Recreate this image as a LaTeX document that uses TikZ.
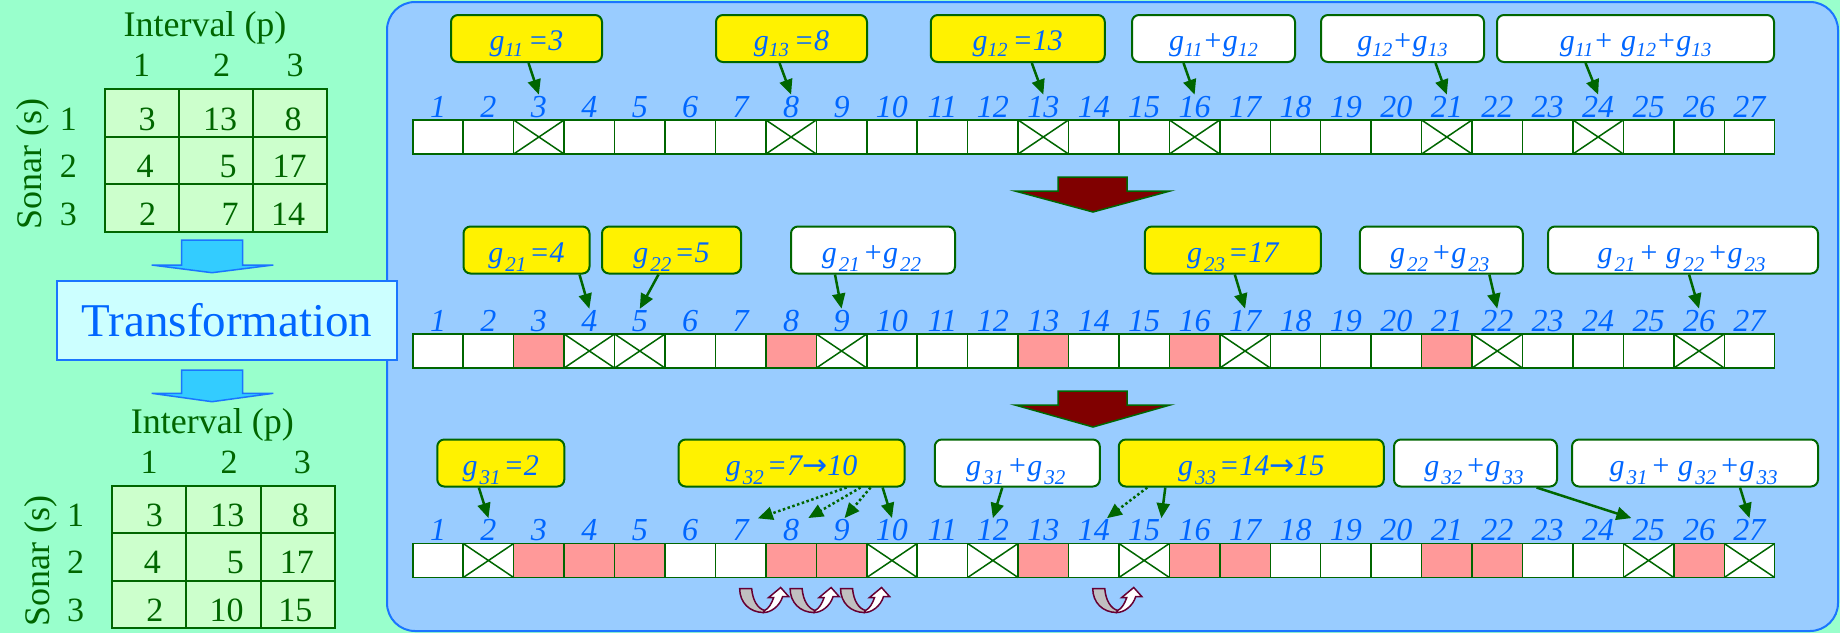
\documentclass[tikz,border=0pt]{standalone}
\usepackage{fontspec}
\setmainfont{Liberation Serif}
\newfontfamily\arrowfont{DejaVu Sans}
\usepackage{tikz}
\usetikzlibrary{arrows.meta}
\usetikzlibrary{positioning}

\definecolor{mint}{HTML}{99FFCC}
\definecolor{skyback}{HTML}{99CCFF}
\definecolor{panelblue}{HTML}{1A75FF}
\definecolor{dkgreen}{HTML}{006600}
\definecolor{cellgreen}{HTML}{CCFFCC}
\definecolor{numblue}{HTML}{0066FF}
\definecolor{hitpink}{HTML}{FF9999}
\definecolor{trbox}{HTML}{CCFFFF}
\definecolor{cyanarrow}{HTML}{33CCFF}
\definecolor{darkred}{HTML}{800000}
\definecolor{wine}{HTML}{660033}
\definecolor{ribbon}{HTML}{C0C0C0}

% subscripts of g: tight (first pass) and spaced (later passes)
\newcommand{\gsub}[1]{\raisebox{-6pt}{\fontsize{20}{20}\selectfont #1}}
\newcommand{\gsubsp}[1]{\kern2pt\raisebox{-9pt}{\fontsize{21}{21}\selectfont #1}\kern3pt}
\newcommand{\moved}{{\arrowfont\upshape →}}

\tikzset{
  cell/.style={draw=dkgreen, line width=1.5pt, fill=white, minimum width=50.44pt,
    minimum height=34pt, inner sep=0pt, outer sep=0pt},
  num/.style={text=numblue, font=\fontsize{32}{32}\selectfont\itshape, inner sep=1pt, anchor=base},
  lbl/.style={draw=dkgreen, line width=2pt, rounded corners=7pt, text=numblue,
    font=\fontsize{30}{30}\selectfont\itshape, minimum height=47pt, inner sep=0pt,
    text height=28pt, text depth=4pt},
  yelbox/.style={lbl, fill=yellow},
  whitebox/.style={lbl, fill=white},
}

\begin{document}
\begin{tikzpicture}[x=1pt,y=-1pt]
  \useasboundingbox (0,0) rectangle (1840,633);
  \fill[mint] (0,0) rectangle (1840,633);
  \filldraw[fill=skyback, draw=panelblue, line width=2pt, rounded corners=28pt] (387,2) rectangle (1838,631);

  % the two g(s,p) tables, before and after
  \foreach \t/\dx/\dy/\bx/\vb/\vc in {1/0/0/230/7/14, 2/7.3/396.7/219.4/10/15} {
    \begin{scope}[shift={(\dx,\dy)}, every node/.style={text=dkgreen, anchor=base, font=\fontsize{34}{34}\selectfont}]
      \filldraw[fill=cellgreen, draw=dkgreen, line width=2pt] (105,89) rectangle (327.3,231.7);
      \draw[dkgreen, line width=2pt] (179.1,89) -- (179.1,231.7) (253.2,89) -- (253.2,231.7)
        (105,136.6) -- (327.3,136.6) (105,184.2) -- (327.3,184.2);
      \node (int\t) at (205,36.7) {\fontsize{36}{36}\selectfont Interval (p)};
      \node[rotate=90] (son\t) at (41.7,164) {\fontsize{36}{36}\selectfont Sonar (s)};
      \node (p\t-1) at (141.7,76.7) {1};
      \node (p\t-2) at (221.7,76.7) {2};
      \node (p\t-3) at (295,76.7) {3};
      \node (s\t-1) at (68.3,130) {1};
      \node (s\t-2) at (68.3,177) {2};
      \node (s\t-3) at (68.3,225) {3};
      \node (v\t-11) at (147,130) {3};
      \node (v\t-12) at (220,130) {13};
      \node (v\t-13) at (293,130) {8};
      \node (v\t-21) at (145,177) {4};
      \node (v\t-22) at (228,177) {5};
      \node (v\t-23) at (289.5,177) {17};
      \node (v\t-31) at (147.5,225) {2};
      \node (v\t-32) at (\bx,225) {\vb};
      \node (v\t-33) at (288,225) {\vc};
    \end{scope}
  }

  % transformation step
  \filldraw[fill=cyanarrow, draw=panelblue, line width=1.5pt] (181.7,240) -- (242.7,240) -- (242.7,265)
    -- (273.3,265) -- (212,272.7) -- (151.7,265) -- (181.7,265) -- cycle;
  \filldraw[fill=cyanarrow, draw=panelblue, line width=1.5pt] (181.7,370) -- (242.7,370) -- (242.7,393.3)
    -- (273.3,393.3) -- (212,401.7) -- (151.7,393.3) -- (181.7,393.3) -- cycle;
  \node[draw=panelblue, fill=trbox, line width=2pt, minimum width=340pt, minimum height=79pt,
    text=numblue, font=\fontsize{47}{47}\selectfont] (trans) at (227,320.5) {Transformation};

  % slot rows
  \foreach \r/\y in {1/137, 2/351, 3/560.5} {
    \foreach \i in {1,...,27} {
      \node[cell] (c\r-\i) at ({412.8+(\i-0.5)*50.44},\y) {};
      \node[num] (n\r-\i) at ([yshift=3pt]c\r-\i.north) {\i};
    }
  }
  \foreach \i in {3,8,13,16,21}
    \filldraw[fill=hitpink, draw=dkgreen, line width=1.5pt] (c2-\i.north west) rectangle (c2-\i.south east);
  \foreach \i in {3,4,5,8,9,13,16,17,21,22,26}
    \filldraw[fill=hitpink, draw=dkgreen, line width=1.5pt] (c3-\i.north west) rectangle (c3-\i.south east);
  \foreach \r/\i in {1/3,1/8,1/13,1/16,1/21,1/24, 2/4,2/5,2/9,2/17,2/22,2/26, 3/2,3/10,3/12,3/15,3/25,3/27}
    \draw[dkgreen, line width=1.5pt] (c\r-\i.north west) -- (c\r-\i.south east) (c\r-\i.north east) -- (c\r-\i.south west);

  % pass arrows
  \filldraw[fill=darkred, draw=dkgreen, line width=1.5pt] (1058,177) -- (1127,177) -- (1127,191) -- (1170,191)
    -- (1093,212) -- (1015,191) -- (1058,191) -- cycle;
  \filldraw[fill=darkred, draw=dkgreen, line width=1.5pt] (1058,391) -- (1127,391) -- (1127,405) -- (1170,405)
    -- (1093,427) -- (1015,405) -- (1058,405) -- cycle;

  % labels
  \node[yelbox, minimum width=151pt] (g11) at (526.5,38.5) {g\gsub{11}\,=3};
  \node[yelbox, minimum width=151pt] (g13) at (791.5,38.5) {g\gsub{13}\,=8};
  \node[yelbox, minimum width=174pt] (g12) at (1017.8,38.5) {g\gsub{12}\,=13};
  \node[whitebox, minimum width=163pt] (g11g12) at (1213.5,38.5) {g\gsub{11}+g\gsub{12}};
  \node[whitebox, minimum width=163pt] (g12g13) at (1402.5,38.5) {g\gsub{12}+g\gsub{13}};
  \node[whitebox, minimum width=277pt] (g11g12g13) at (1635.5,38.5) {g\gsub{11}+ g\gsub{12}+g\gsub{13}};

  \node[yelbox, minimum width=126pt] (g21) at (526.5,250) {g\gsubsp{21}=4};
  \node[yelbox, minimum width=139pt] (g22) at (671.5,250) {g\gsubsp{22}=5};
  \node[whitebox, minimum width=164pt] (g21g22) at (873,250) {g\gsubsp{21}+g\gsubsp{22}};
  \node[yelbox, minimum width=176pt] (g23) at (1232.8,250) {g\gsubsp{23}=17};
  \node[whitebox, minimum width=163pt] (g22g23) at (1441.3,250) {g\gsubsp{22}+g\gsubsp{23}};
  \node[whitebox, minimum width=270pt] (g21g22g23) at (1683,250) {g\gsubsp{21}+ g\gsubsp{22}+g\gsubsp{23}};

  \node[yelbox, minimum width=127pt] (g31) at (500.8,463) {g\gsubsp{31}=2};
  \node[yelbox, minimum width=226pt] (g32) at (791.6,463) {g\gsubsp{32}=7\moved10};
  \node[whitebox, minimum width=165pt] (g31g32) at (1017.3,463) {g\gsubsp{31}+g\gsubsp{32}};
  \node[yelbox, minimum width=265pt] (g33) at (1251.3,463) {g\gsubsp{33}=14\moved15};
  \node[whitebox, minimum width=163pt] (g32g33) at (1475.5,463) {g\gsubsp{32}+g\gsubsp{33}};
  \node[whitebox, minimum width=246pt] (g31g32g33) at (1695,463) {g\gsubsp{31}+ g\gsubsp{32}+g\gsubsp{33}};

  \begin{scope}[every edge/.style={draw=dkgreen, line width=2.5pt, -{Triangle[length=15pt,width=13pt]}}]
    \path ([xshift=2pt]g11.south) edge (n1-3.north);
    \path ([xshift=-12pt]g13.south) edge (n1-8.north);
    \path ([xshift=14pt]g12.south) edge (n1-13.north);
    \path ([xshift=-30pt]g11g12.south) edge (n1-16.north);
    \path ([xshift=33pt]g12g13.south) edge (n1-21.north);
    \path ([xshift=-50pt]g11g12g13.south) edge (n1-24.north);

    \path ([xshift=53pt]g21.south) edge (n2-4.north);
    \path ([xshift=-13pt]g22.south) edge (n2-5.north);
    \path ([xshift=-38pt]g21g22.south) edge (n2-9.north);
    \path ([xshift=2pt]g23.south) edge (n2-17.north);
    \path ([xshift=48pt]g22g23.south) edge (n2-22.north);
    \path ([xshift=6pt]g21g22g23.south) edge (n2-26.north);

    \path ([xshift=-22pt]g31.south) edge (n3-2.north);
    \path ([xshift=91pt]g32.south) edge (n3-10.north);
    \path ([xshift=-15pt]g31g32.south) edge (n3-12.north);
    \path ([xshift=-86pt]g33.south) edge (n3-15.north east);
    \path ([xshift=61pt]g32g33.south) edge (n3-25.north west);
    \path ([xshift=45pt]g31g32g33.south) edge (n3-27.north);
  \end{scope}
  \begin{scope}[every edge/.style={draw=dkgreen, line width=2.5pt, dash pattern=on 2.5pt off 2.5pt,
      -{Triangle[length=15pt,width=13pt]}}]
    \path ([xshift=55pt]g32.south) edge ([xshift=8pt]n3-7.north east);
    \path ([xshift=69pt]g32.south) edge ([xshift=8pt]n3-8.north east);
    \path ([xshift=79pt]g32.south) edge ([xshift=3pt]n3-9.north);
    \path ([xshift=-104pt]g33.south) edge ([xshift=-4pt]n3-14.north east);
  \end{scope}

  % shifts to the next slot
  \foreach \i in {7,8,9,14} {
    \begin{scope}[shift={(c3-\i.south)}, shift={(-1,11)}]
      \filldraw[fill=ribbon, draw=wine, line width=1.5pt] (0,0) -- (12,0) .. controls (13,12) and (18,20) .. (25,22)
        -- (24,24) .. controls (10,24) and (0,14) .. cycle;
      \filldraw[fill=white, draw=wine, line width=1.5pt] (24,24) .. controls (31,24) and (40,18) .. (43,8)
        -- (49,8) -- (41,-1) -- (29,9) -- (34,9) .. controls (32,15) and (29,20) .. (25,22) -- cycle;
    \end{scope}
  }
\end{tikzpicture}
\end{document}
